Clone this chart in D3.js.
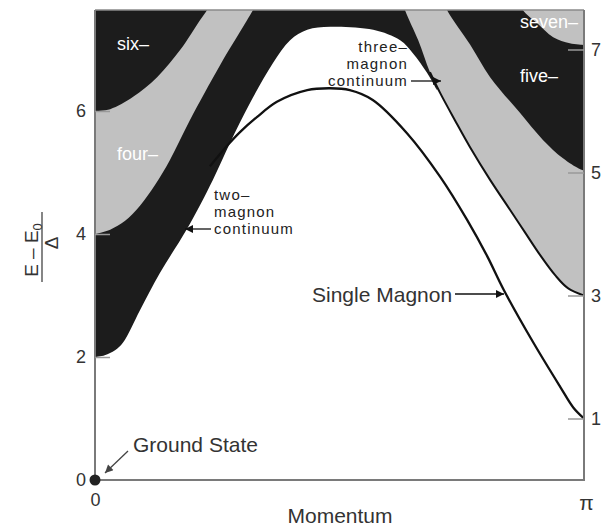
<!DOCTYPE html>
<html><head><meta charset="utf-8">
<script src="https://cdn.jsdelivr.net/npm/d3@7"></script>
<style>
body{margin:0;background:#fff}
svg{display:block}
text{font-family:"Liberation Sans",Arial,Helvetica,sans-serif}
</style>
</head><body>
<svg id="c" width="607" height="529"></svg>
<script>
// ---- data: momentum in units of pi, energy (E - E0) in units of Delta ----
const singleMagnon = [[0.235,5.10],[0.272,5.45],[0.297,5.66],[0.331,5.90],[0.372,6.15],[0.434,6.34],[0.481,6.37],[0.521,6.34],[0.568,6.18],[0.638,5.64],[0.706,4.93],[0.761,4.23],[0.802,3.64],[0.836,3.09],[0.896,2.24],[0.951,1.52],[0.978,1.18],[1.0,1.0]];
const twoMagnonEdge = [[0,2.0],[0.020,2.03],[0.041,2.11],[0.057,2.23],[0.092,2.76],[0.133,3.37],[0.188,4.08],[0.241,4.88],[0.276,5.48],[0.317,6.13],[0.364,6.78],[0.399,7.15],[0.434,7.32],[0.481,7.37],[0.569,7.32],[0.624,7.15],[0.650,6.94],[0.679,6.62],[0.699,6.34]];
const threeMagnonEdge = [[0.624,7.89],[0.634,7.64],[0.661,7.15],[0.685,6.63],[0.706,6.29],[0.736,5.85],[0.767,5.41],[0.808,4.88],[0.849,4.39],[0.879,4.03],[0.910,3.66],[0.941,3.33],[0.967,3.12],[1.0,3.0]];
const fourMagnonEdge = [[0,4.0],[0.031,4.07],[0.061,4.21],[0.092,4.46],[0.123,4.80],[0.153,5.20],[0.194,5.85],[0.256,6.75],[0.323,7.64],[0.337,7.84]];
const fiveMagnonEdge = [[0.706,7.89],[0.720,7.64],[0.767,7.08],[0.808,6.55],[0.869,5.97],[0.916,5.53],[0.957,5.23],[0.990,5.06],[1.0,5.03]];
const sixMagnonEdge = [[0,6.0],[0.031,6.03],[0.078,6.23],[0.127,6.55],[0.174,6.99],[0.215,7.48],[0.229,7.64],[0.239,7.80]];
const sevenMagnonEdge = [[0.865,7.84],[0.875,7.64],[0.904,7.43],[0.937,7.20],[0.971,7.10],[1.0,7.07]];
const leftTicks = [2,4,6];
const leftLabels = [0,2,4,6];
const rightTicks = [1,3,5,7];
const xTicks = [0,1];
const xTickLabels = ["0","π"];

// ---- layout ----
const X0=95, X1=584, Y0=480, Y1=10;
const BLACK="#1c1c1c", GRAY="#c1c1c1", AXIS="#7a7a7a";
const x = d3.scaleLinear().domain([0,1]).range([X0,X1]);
const y = d3.scaleLinear().domain([0,(Y0-Y1)/61.5]).range([Y0,Y1]);

const svg = d3.select("#c");
const defs = svg.append("defs");
defs.append("clipPath").attr("id","plot").append("rect")
  .attr("x",X0).attr("y",Y1).attr("width",X1-X0).attr("height",Y0-Y1);
function marker(id,color,w,h){
  defs.append("marker").attr("id",id).attr("viewBox","0 0 10 10")
    .attr("refX",10).attr("refY",5).attr("markerWidth",w).attr("markerHeight",h)
    .attr("markerUnits","userSpaceOnUse").attr("orient","auto")
    .append("path").attr("d","M0,0L10,5L0,10Z").attr("fill",color);
}
marker("ah","#111",11,8);
marker("ahg","#444",10,8);

const crv = d3.curveCatmullRom.alpha(0.5);
const plot = svg.append("g").attr("clip-path","url(#plot)");
const area = d3.area().x(d=>x(d[0])).y0(d=>y(d[1])).y1(0).curve(crv);
const line = d3.line().x(d=>x(d[0])).y(d=>y(d[1])).curve(crv);

[[twoMagnonEdge,BLACK],[threeMagnonEdge,GRAY],[fourMagnonEdge,GRAY],
 [fiveMagnonEdge,BLACK],[sixMagnonEdge,BLACK],[sevenMagnonEdge,GRAY]].forEach(([d,c])=>{
  plot.append("path").attr("d",area(d)).attr("fill",c);
});
plot.append("path").attr("d",line(threeMagnonEdge.filter(d=>d[0]>=0.685)))
  .attr("fill","none").attr("stroke","#111").attr("stroke-width",2);
plot.append("path").attr("d",line(singleMagnon))
  .attr("fill","none").attr("stroke","#111").attr("stroke-width",2.3);

// frame
svg.append("line").attr("x1",X0).attr("x2",X1).attr("y1",Y1).attr("y2",Y1).attr("stroke","#8a8a8a").attr("stroke-width",1.5);
svg.append("path").attr("d",`M${X0},${Y1}V${Y0}H${X1}V${Y1}`).attr("fill","none").attr("stroke",AXIS).attr("stroke-width",2);

// axes
const lAxis = svg.append("g").attr("transform",`translate(${X0},0)`)
  .call(d3.axisLeft(y).tickValues(leftLabels).tickSize(-15).tickPadding(9).tickFormat(d3.format("d")));
lAxis.selectAll("line").attr("stroke","#999").attr("stroke-width",1.5).attr("opacity",d=>leftTicks.includes(d)?1:0);
const rAxis = svg.append("g").attr("transform",`translate(${X1},0)`)
  .call(d3.axisRight(y).tickValues(rightTicks).tickSize(-16).tickPadding(7).tickFormat(d3.format("d")));
rAxis.selectAll("line").attr("stroke","#999").attr("stroke-width",1.5);
const bAxis = svg.append("g").attr("transform",`translate(0,${Y0})`)
  .call(d3.axisBottom(x).tickValues(xTicks).tickSize(0).tickPadding(13).tickFormat((d,i)=>xTickLabels[i]));
[lAxis,rAxis,bAxis].forEach(a=>{
  a.select(".domain").remove();
  a.selectAll("text").attr("font-size",18).attr("fill","#333")
   .attr("font-family",'"Liberation Sans",Arial,sans-serif');
});
bAxis.selectAll("text").filter((d,i)=>i===1).attr("font-family",'"Liberation Serif","Times New Roman",serif').attr("font-size",21).attr("dx",2).attr("dy","0.8em");

// ground state dot
svg.append("circle").attr("cx",x(0)).attr("cy",y(0)).attr("r",5.5).attr("fill","#222");

// region labels
function label(lines,px,py,opts={}){
  const t = svg.append("text").attr("x",px).attr("y",py)
    .attr("font-size",opts.size||18).attr("fill",opts.fill||"#222")
    .attr("text-anchor",opts.anchor||"start")
    .attr("letter-spacing",opts.ls||0);
  lines.forEach((s,i)=>t.append("tspan").attr("x",px).attr("dy",i?(opts.lh||17):0).text(s));
  return t;
}
label(["six–"],117,50,{fill:"#fff"});
label(["four–"],117,160,{fill:"#fff"});
label(["five–"],520,82,{fill:"#fff"});
label(["seven–"],520,28,{fill:"#fff"});
label(["two–","magnon","continuum"],214,200,{size:15,lh:17,ls:1.2});
label(["three–","magnon","continuum"],408,52,{size:15,lh:17,ls:1.2,anchor:"end"});
label(["Single Magnon"],312,302,{size:21,fill:"#333"});
label(["Ground State"],133,452,{size:21,fill:"#333"});
label(["Momentum"],340,523,{size:21,fill:"#333",anchor:"middle"});

// arrows
function arrow(x1,y1,x2,y2,color,mk,w){
  svg.append("line").attr("x1",x1).attr("y1",y1).attr("x2",x2).attr("y2",y2)
    .attr("stroke",color).attr("stroke-width",w).attr("marker-end",`url(#${mk})`);
}
arrow(211,229,185,229,"#111","ah",1.3);
arrow(411,81,441,81,"#111","ah",1.3);
arrow(455,294,504,294,"#111","ah",1.3);
arrow(128,451,105,473,"#444","ahg",1.3);

// y label
const yl = svg.append("g").attr("transform","translate(42,247) rotate(-90)");
const num = yl.append("text").attr("x",-3).attr("y",-4).attr("text-anchor","middle").attr("font-size",19).attr("fill","#333");
num.append("tspan").text("E – E");
num.append("tspan").attr("font-size",13).attr("dy",4).text("0");
yl.append("line").attr("x1",-35).attr("x2",35).attr("y1",0).attr("y2",0).attr("stroke","#444").attr("stroke-width",1.3);
yl.append("text").attr("x",4).attr("y",16).attr("text-anchor","middle").attr("font-size",19).attr("fill","#333").text("Δ");
</script>
</body></html>
